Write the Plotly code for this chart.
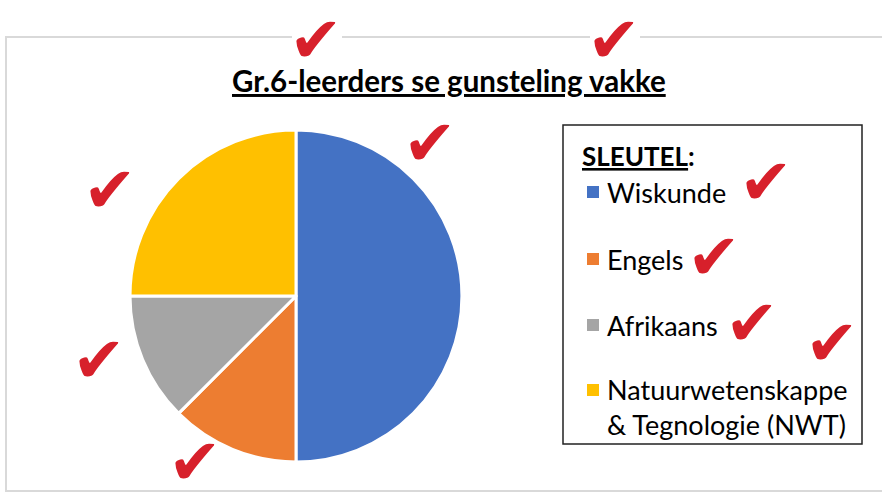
import plotly.graph_objects as go

W, H = 882, 500

# Data
subjects = ["Wiskunde", "Engels", "Afrikaans", "Natuurwetenskappe<br>& Tegnologie (NWT)"]
shares = [50, 12.5, 12.5, 25]
colors = ["#4472C4", "#ED7D31", "#A5A5A5", "#FFC000"]
title_text = "Gr.6-leerders se gunsteling vakke"
key_title = "SLEUTEL"

# check-mark decoration centres (pixels)
check_x = [316, 614, 430, 110, 766, 714, 752, 832, 99, 195]
check_y = [40, 40, 143, 190, 182, 257, 323, 343, 360, 462]

def px(x):
    return x / W

def py(y):
    return 1 - y / H

cx, cy, r = 296, 296, 166

fig = go.Figure()
fig.add_trace(go.Pie(
    labels=subjects, values=shares, sort=False, direction="clockwise",
    rotation=0,
    marker=dict(colors=colors, line=dict(color="white", width=3)),
    textinfo="none", hoverinfo="label+percent", showlegend=False,
    domain=dict(x=[px(cx - r), px(cx + r)], y=[py(cy + r), py(cy - r)]),
))

shapes = []
annotations = []
# outer chart border
shapes.append(dict(type="rect", xref="paper", yref="paper",
                   x0=px(6), x1=px(890), y0=py(491), y1=py(37),
                   line=dict(color="#D9D9D9", width=2), fillcolor="rgba(0,0,0,0)", layer="below"))
# white patches behind the two top check marks (break the border line)
for x in check_x[:2]:
    shapes.append(dict(type="rect", xref="paper", yref="paper",
                       x0=px(x - 24), x1=px(x + 26), y0=py(44), y1=py(30),
                       line=dict(width=0), fillcolor="white", layer="above"))
# key box
shapes.append(dict(type="rect", xref="paper", yref="paper",
                   x0=px(563), x1=px(862), y0=py(444), y1=py(125),
                   line=dict(color="#222222", width=1.5), fillcolor="white"))

# title
annotations.append(dict(text="<b><u>" + title_text + "</u></b>", x=px(449), y=py(80),
                        xref="paper", yref="paper", showarrow=False,
                        font=dict(family="Lato", size=29.5, color="black"),
                        xanchor="center", yanchor="middle"))
# key title
annotations.append(dict(text="<b><u>" + key_title + "</u>:</b>", x=px(580), y=py(156),
                        xref="paper", yref="paper", showarrow=False,
                        font=dict(family="Lato", size=26, color="black"),
                        xanchor="left", yanchor="middle"))

item_y = [192, 259, 325, 407]
for lab, col, yy in zip(subjects, colors, item_y):
    sq_y = yy if "<br>" not in lab else 390
    shapes.append(dict(type="rect", xref="paper", yref="paper",
                       x0=px(587), x1=px(599), y0=py(sq_y + 6), y1=py(sq_y - 6),
                       line=dict(width=0), fillcolor=col))
    annotations.append(dict(text=lab, x=px(605), y=py(yy), xref="paper", yref="paper",
                            showarrow=False, align="left",
                            font=dict(family="Lato", size=27, color="black"),
                            xanchor="left", yanchor="middle"))

for x, y in zip(check_x, check_y):
    annotations.append(dict(text="\u2714", x=px(x), y=py(y), xref="paper", yref="paper",
                            showarrow=False,
                            font=dict(family="DejaVu Sans", size=64, color="#D7202B"),
                            borderpad=0,
                            xanchor="center", yanchor="middle"))

fig.update_layout(
    width=W, height=H, margin=dict(l=0, r=0, t=0, b=0),
    paper_bgcolor="white", plot_bgcolor="white",
    shapes=shapes, annotations=annotations,
)
fig.write_html("out.html", post_script="document.body.style.margin='0';",
               config={"displayModeBar": False})
